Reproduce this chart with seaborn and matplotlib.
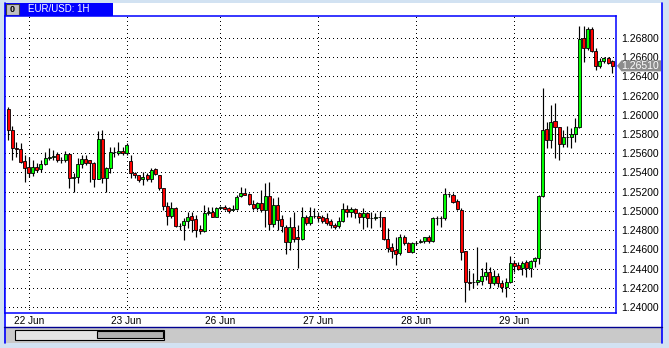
import numpy as np
import pandas as pd
import matplotlib
matplotlib.use("Agg")
import matplotlib.pyplot as plt
from matplotlib.patches import Rectangle, Polygon
import seaborn as sns

# ---------------- data (EUR/USD, 1H candles) ----------------
open_ = [1.26061, 1.25842, 1.25655, 1.25645, 1.25520, 1.25457, 1.25395, 1.25457, 1.25436, 1.25488,
         1.25551, 1.25561, 1.25592, 1.25530, 1.25530, 1.25592, 1.25343, 1.25353, 1.25488, 1.25540,
         1.25530, 1.25499, 1.25332, 1.25749, 1.25343, 1.25447, 1.25613, 1.25603, 1.25624, 1.25603,
         1.25520, 1.25395, 1.25374, 1.25332, 1.25374, 1.25332, 1.25436, 1.25374, 1.25239, 1.25051,
         1.24947, 1.25031, 1.24843, 1.24854, 1.24895, 1.24947, 1.24916, 1.24812, 1.24791, 1.24979,
         1.24989, 1.24937, 1.25031, 1.25041, 1.25031, 1.25010, 1.25020, 1.25155, 1.25187, 1.25176,
         1.25072, 1.25031, 1.25083, 1.25010, 1.25155, 1.24864, 1.25062, 1.24916, 1.24833, 1.24676,
         1.24833, 1.24728, 1.24707, 1.24937, 1.24874, 1.24947, 1.24947, 1.24937, 1.24927, 1.24895,
         1.24854, 1.24843, 1.24895, 1.25020, 1.24989, 1.25020, 1.24979, 1.24937, 1.24979, 1.24927,
         1.24927, 1.24937, 1.24937, 1.24707, 1.24624, 1.24593, 1.24562, 1.24728, 1.24666, 1.24572,
         1.24666, 1.24676, 1.24687, 1.24728, 1.24687, 1.24927, 1.24927, 1.24927, 1.25176, 1.25166,
         1.25103, 1.25010, 1.24583, 1.24260, 1.24260, 1.24260, 1.24271, 1.24323, 1.24364, 1.24250,
         1.24323, 1.24250, 1.24208, 1.24260, 1.24458, 1.24437, 1.24406, 1.24468, 1.24406, 1.24478,
         1.24510, 1.25155, 1.25853, 1.25738, 1.25936, 1.25874, 1.25697, 1.25769, 1.25769, 1.25801,
         1.25874, 1.26800, 1.26696, 1.26894, 1.26665, 1.26509, 1.26561, 1.26592, 1.26561]

high = [1.26082, 1.25884, 1.25717, 1.25707, 1.25582, 1.25561, 1.25530, 1.25499, 1.25530, 1.25613,
        1.25655, 1.25634, 1.25613, 1.25561, 1.25624, 1.25603, 1.25395, 1.25551, 1.25582, 1.25582,
        1.25530, 1.25509, 1.25832, 1.25842, 1.25457, 1.25665, 1.25665, 1.25717, 1.25665, 1.25707,
        1.25582, 1.25405, 1.25374, 1.25405, 1.25395, 1.25447, 1.25447, 1.25374, 1.25239, 1.25093,
        1.25093, 1.25041, 1.24874, 1.24927, 1.24989, 1.24989, 1.24958, 1.24854, 1.25062, 1.25041,
        1.25041, 1.25041, 1.25051, 1.25062, 1.25041, 1.25062, 1.25166, 1.25249, 1.25239, 1.25187,
        1.25114, 1.25093, 1.25218, 1.25291, 1.25301, 1.25135, 1.25145, 1.24958, 1.24854, 1.24937,
        1.24989, 1.24854, 1.25041, 1.24958, 1.25041, 1.25031, 1.24989, 1.24958, 1.24979, 1.24916,
        1.24874, 1.24937, 1.25083, 1.25062, 1.25041, 1.25031, 1.24989, 1.25031, 1.24989, 1.24989,
        1.24979, 1.24999, 1.24937, 1.24822, 1.24666, 1.24728, 1.24760, 1.24749, 1.24676, 1.24676,
        1.24687, 1.24707, 1.24728, 1.24749, 1.24937, 1.24947, 1.24947, 1.25239, 1.25187, 1.25187,
        1.25124, 1.25031, 1.24583, 1.24385, 1.24354, 1.24624, 1.24406, 1.24468, 1.24416, 1.24385,
        1.24354, 1.24281, 1.24302, 1.24530, 1.24489, 1.24468, 1.24478, 1.24489, 1.24489, 1.24520,
        1.25166, 1.26280, 1.25926, 1.26103, 1.26123, 1.25874, 1.25842, 1.25884, 1.25863, 1.25967,
        1.26925, 1.26925, 1.26915, 1.26915, 1.26696, 1.26592, 1.26602, 1.26602, 1.26571]

low = [1.25738, 1.25530, 1.25561, 1.25499, 1.25301, 1.25353, 1.25364, 1.25405, 1.25405, 1.25478,
       1.25530, 1.25530, 1.25509, 1.25499, 1.25509, 1.25239, 1.25197, 1.25291, 1.25447, 1.25478,
       1.25301, 1.25249, 1.25332, 1.25291, 1.25197, 1.25395, 1.25561, 1.25582, 1.25582, 1.25582,
       1.25343, 1.25343, 1.25301, 1.25270, 1.25312, 1.25301, 1.25374, 1.25218, 1.25010, 1.24854,
       1.24927, 1.24833, 1.24801, 1.24697, 1.24822, 1.24780, 1.24728, 1.24760, 1.24780, 1.24958,
       1.24937, 1.24937, 1.25020, 1.25010, 1.24979, 1.25010, 1.25010, 1.25145, 1.25166, 1.25062,
       1.25010, 1.25010, 1.24989, 1.24833, 1.24801, 1.24833, 1.24801, 1.24780, 1.24551, 1.24593,
       1.24676, 1.24406, 1.24697, 1.24854, 1.24854, 1.24927, 1.24885, 1.24874, 1.24854, 1.24822,
       1.24812, 1.24822, 1.24885, 1.24937, 1.24937, 1.24927, 1.24874, 1.24812, 1.24833, 1.24822,
       1.24906, 1.24833, 1.24697, 1.24572, 1.24510, 1.24437, 1.24541, 1.24645, 1.24572, 1.24562,
       1.24645, 1.24666, 1.24666, 1.24666, 1.24676, 1.24854, 1.24833, 1.24906, 1.25145, 1.25083,
       1.25010, 1.24489, 1.24052, 1.24177, 1.24198, 1.24229, 1.24229, 1.24281, 1.24198, 1.24229,
       1.24208, 1.24156, 1.24104, 1.24250, 1.24364, 1.24385, 1.24333, 1.24312, 1.24312, 1.24416,
       1.24447, 1.25145, 1.25655, 1.25655, 1.25551, 1.25530, 1.25665, 1.25665, 1.25655, 1.25717,
       1.25863, 1.26550, 1.26675, 1.26654, 1.26467, 1.26488, 1.26540, 1.26529, 1.26436]

close = [1.25842, 1.25655, 1.25645, 1.25509, 1.25447, 1.25395, 1.25457, 1.25426, 1.25488, 1.25551,
         1.25561, 1.25572, 1.25530, 1.25530, 1.25592, 1.25343, 1.25353, 1.25488, 1.25540, 1.25499,
         1.25499, 1.25332, 1.25749, 1.25343, 1.25447, 1.25613, 1.25613, 1.25624, 1.25603, 1.25686,
         1.25395, 1.25374, 1.25322, 1.25353, 1.25332, 1.25426, 1.25384, 1.25239, 1.25051, 1.24947,
         1.25031, 1.24843, 1.24843, 1.24895, 1.24937, 1.24906, 1.24801, 1.24791, 1.24979, 1.24989,
         1.24937, 1.25031, 1.25041, 1.25020, 1.24999, 1.25020, 1.25145, 1.25187, 1.25166, 1.25072,
         1.25031, 1.25083, 1.25010, 1.25155, 1.24864, 1.25062, 1.24906, 1.24843, 1.24676, 1.24833,
         1.24707, 1.24707, 1.24937, 1.24874, 1.24947, 1.24947, 1.24927, 1.24895, 1.24874, 1.24854,
         1.24833, 1.24895, 1.25020, 1.24989, 1.25020, 1.24979, 1.24937, 1.24979, 1.24927, 1.24927,
         1.24937, 1.24937, 1.24707, 1.24614, 1.24583, 1.24551, 1.24728, 1.24666, 1.24572, 1.24666,
         1.24666, 1.24687, 1.24728, 1.24687, 1.24927, 1.24927, 1.24927, 1.25176, 1.25176, 1.25093,
         1.25020, 1.24572, 1.24260, 1.24250, 1.24260, 1.24281, 1.24323, 1.24364, 1.24250, 1.24323,
         1.24250, 1.24208, 1.24260, 1.24458, 1.24427, 1.24396, 1.24458, 1.24406, 1.24478, 1.24510,
         1.25155, 1.25842, 1.25738, 1.25926, 1.25874, 1.25697, 1.25769, 1.25769, 1.25801, 1.25874,
         1.26790, 1.26696, 1.26894, 1.26665, 1.26509, 1.26561, 1.26592, 1.26540, 1.26510]

day_ticks = [5, 29, 52, 76, 100, 124]
day_labels = ["22 Jun", "23 Jun", "26 Jun", "27 Jun", "28 Jun", "29 Jun"]
price_ticks = [1.240, 1.242, 1.244, 1.246, 1.248, 1.250, 1.252, 1.254,
               1.256, 1.258, 1.260, 1.262, 1.264, 1.266, 1.268]
chart_title = "EUR/USD: 1H"
icon_text = "0"

# ---------------- style ----------------
sns.set_style("white")
plt.rcParams['font.family'] = ['Liberation Sans', 'DejaVu Sans']

BLUE = '#0000ff'
GREEN = '#00ff00'
RED = '#ff0000'

W, H = 669, 348
fig = plt.figure(figsize=(W / 100, H / 100), dpi=100, facecolor='#d2e2f2')

# background layer in pixel coordinates (window chrome)
bg = fig.add_axes([0, 0, 1, 1], zorder=0)
bg.set_xlim(0, W)
bg.set_ylim(H, 0)
bg.axis('off')
bg.add_patch(Rectangle((4, 3), 658, 324, facecolor='white', edgecolor='none'))
bg.add_patch(Rectangle((4, 327), 658, 16, facecolor='#c9c9c9', edgecolor='none'))
bg.plot([4.5, 4.5], [3, 343], color=BLUE, lw=1.2)
bg.plot([662, 662], [3, 343], color=BLUE, lw=1.2)
bg.plot([4, 662], [327, 327], color='#000090', lw=1.0)
# title bar
bg.add_patch(Rectangle((5, 3), 108, 13, facecolor=BLUE, edgecolor='none'))
bg.add_patch(Rectangle((6, 4), 13, 10.5, facecolor='#c0c0c0', edgecolor='#404040', lw=0.8))
bg.text(12.5, 9.5, icon_text, color='black', fontsize=6.5, ha='center', va='center',
        fontweight='bold')
bg.text(28, 9.5, chart_title, color='white', fontsize=7, ha='left', va='center')
# scroll bar
bg.add_patch(Rectangle((15, 329.5), 149, 10, facecolor='#e4e4e4', edgecolor='black', lw=0.8))
bg.add_patch(Rectangle((97, 330.8), 66, 7.5, facecolor='#b2b2b2', edgecolor='black', lw=0.8))

# ---------------- main chart ----------------
df = pd.DataFrame({'open': open_, 'high': high, 'low': low, 'close': close})
df['idx'] = np.arange(len(df))
df['bottom'] = df[['open', 'close']].min(axis=1)
df['height'] = (df['close'] - df['open']).abs()
df['color'] = np.where(df['close'] > df['open'], GREEN, RED)

ax = fig.add_axes([4.5 / W, 1 - 313 / H, (616 - 4.5) / W, (313 - 16) / H], zorder=1)
ax.set_facecolor('white')

ax.vlines(df['idx'], df['low'], df['high'], color='black', lw=0.85, zorder=2)
ax.bar(df['idx'], df['height'], bottom=df['bottom'], width=0.74,
       color=df['color'], edgecolor='black', linewidth=0.6, zorder=3)

ax.set_xlim(-0.93, 148.95)
ax.set_ylim(1.23937, 1.27029)

ax.set_xticks(day_ticks)
ax.set_xticklabels(day_labels)
ax.yaxis.tick_right()
ax.set_yticks(price_ticks)
ax.set_yticklabels([f"{v:.5f}" for v in price_ticks])
ax.tick_params(axis='x', length=0, pad=2.5, labelsize=7.2, colors='black')
ax.tick_params(axis='y', length=0, pad=4, labelsize=7.5, colors='black')

ax.set_axisbelow(True)
ax.grid(True, color='black', linestyle=(0, (1, 3)), linewidth=0.72, antialiased=False)
for s in ax.spines.values():
    s.set_visible(True)
    s.set_color(BLUE)
    s.set_linewidth(1.1)

# current price tag (positioned from the last close via the axes transform)
fg = fig.add_axes([0, 0, 1, 1], zorder=3)
fg.set_xlim(0, W)
fg.set_ylim(H, 0)
fg.axis('off')
y_disp = ax.transData.transform((0, close[-1]))[1]
yp = H - y_disp
fg.add_patch(Polygon([(617, yp), (621.5, yp - 5.5), (661, yp - 5.5), (661, yp + 5.5), (621.5, yp + 5.5)],
                     closed=True, facecolor='#8c8c8c', edgecolor='none'))
fg.text(621.5, yp, f"{close[-1]:.5f}", color='white', fontsize=7.5, ha='left', va='center')

fig.savefig("out.png", dpi=100, facecolor=fig.get_facecolor())
